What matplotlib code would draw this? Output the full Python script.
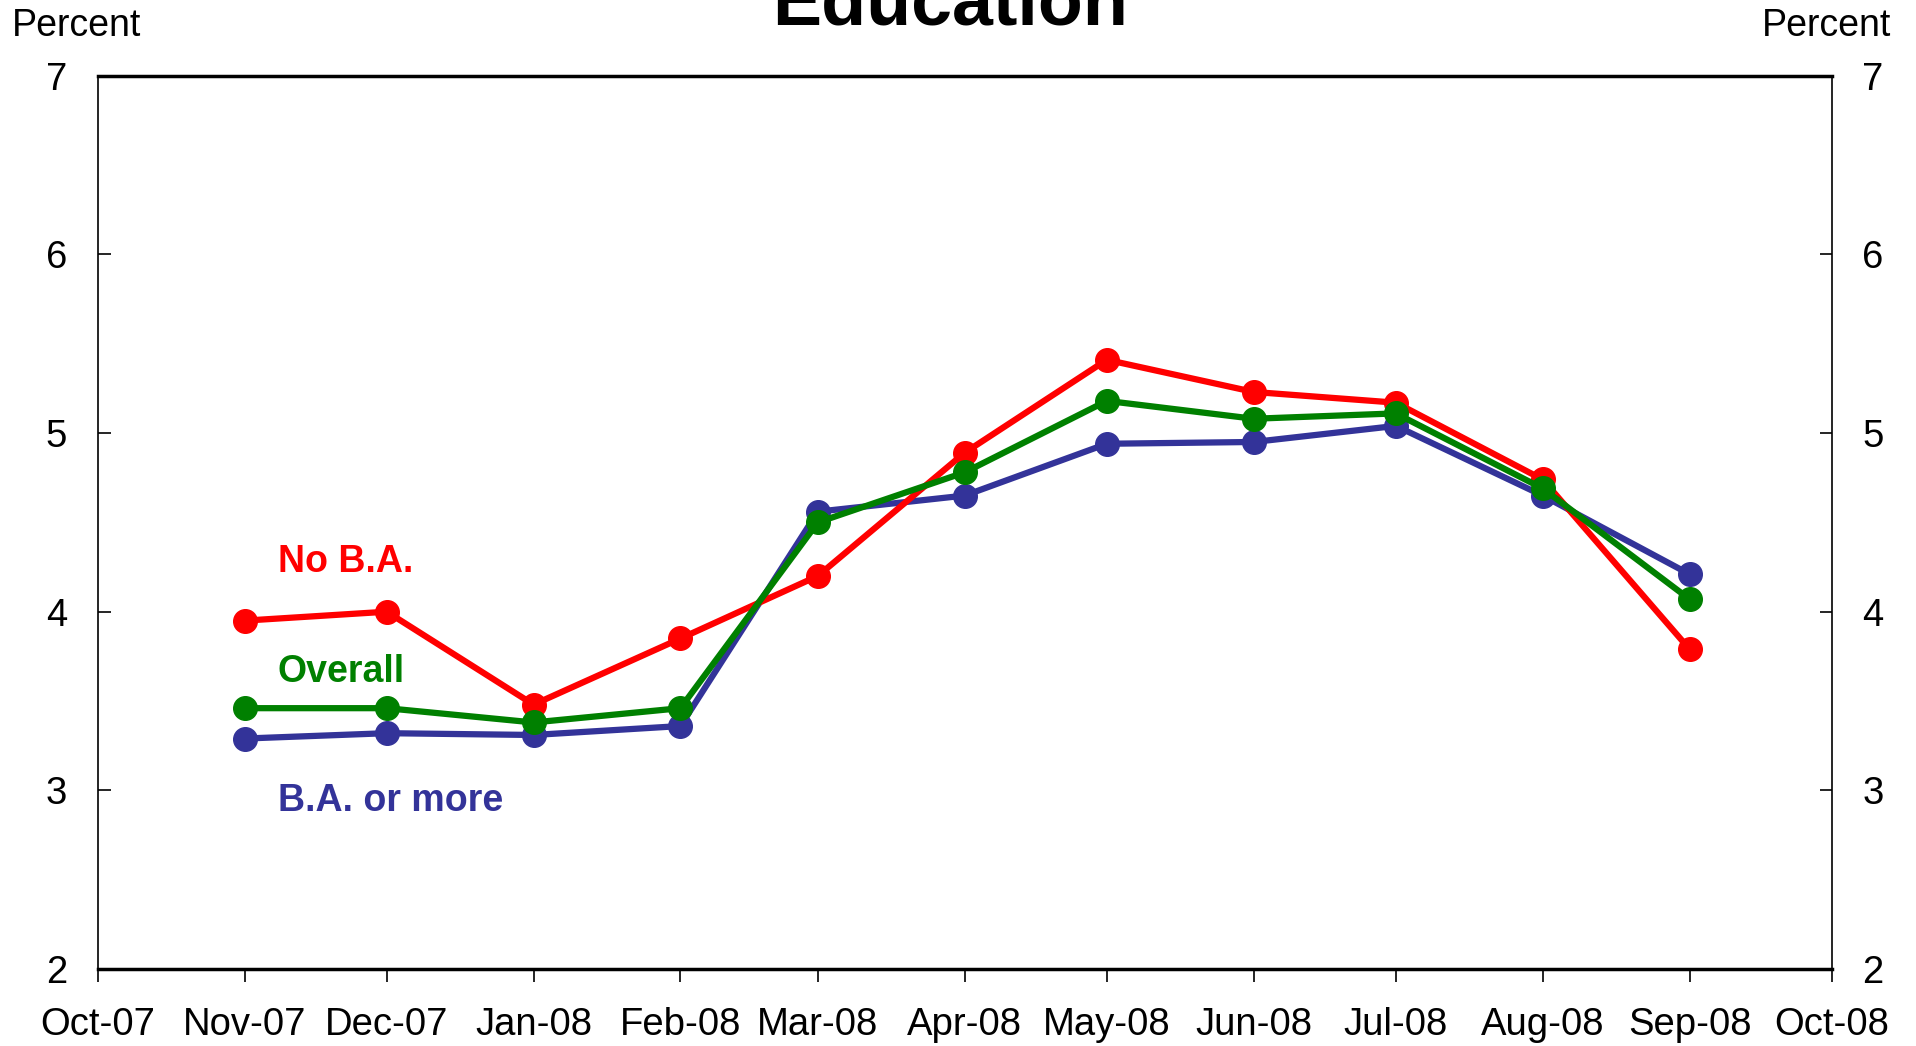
import pandas as pd
import matplotlib
matplotlib.use('Agg')
import matplotlib.pyplot as plt
import matplotlib.dates as mdates

plt.rcParams['font.family'] = ['Liberation Sans', 'DejaVu Sans']

# data
months = pd.to_datetime(['2007-11-01', '2007-12-01', '2008-01-01', '2008-02-01',
                         '2008-03-01', '2008-04-01', '2008-05-01', '2008-06-01',
                         '2008-07-01', '2008-08-01', '2008-09-01'])
no_ba = [3.95, 4.00, 3.48, 3.85, 4.20, 4.89, 5.41, 5.23, 5.17, 4.74, 3.79]
overall = [3.46, 3.46, 3.38, 3.46, 4.50, 4.78, 5.18, 5.08, 5.11, 4.69, 4.07]
ba_more = [3.29, 3.32, 3.31, 3.36, 4.56, 4.65, 4.94, 4.95, 5.04, 4.65, 4.21]

x_start = pd.Timestamp('2007-10-01')
x_end = pd.Timestamp('2008-10-01')
y_ticks = [2, 3, 4, 5, 6, 7]

red = '#FF0000'
green = '#008000'
blue = '#333399'

fig = plt.figure(figsize=(19.16, 10.46), dpi=100)
ax = fig.add_axes([0.051, 0.0736, 0.905, 0.854])

ax.plot(months, ba_more, color=blue, lw=4.5, marker='o', ms=17)
ax.plot(months, no_ba, color=red, lw=4.5, marker='o', ms=17)
ax.plot(months, overall, color=green, lw=4.5, marker='o', ms=17)

lab_x = pd.Timestamp('2007-11-08')
ax.text(lab_x, 4.28, 'No B.A.', color=red, fontsize=27, fontweight='bold', va='center')
ax.text(lab_x, 3.66, 'Overall', color=green, fontsize=27, fontweight='bold', va='center')
ax.text(lab_x, 2.94, 'B.A. or more', color=blue, fontsize=27, fontweight='bold', va='center')

ax.set_xlim(x_start, x_end)
ax.set_ylim(2, 7)
ax.set_yticks(y_ticks)
ax.xaxis.set_major_locator(mdates.MonthLocator())
ax.xaxis.set_major_formatter(mdates.DateFormatter('%b-%y'))

ax.tick_params(axis='x', direction='out', length=9, width=1.2, pad=18, labelsize=27.5)
ax.tick_params(axis='y', direction='in', length=9, width=1.2, pad=22, labelsize=27.5,
               right=True, labelright=True)

for s in ['top', 'bottom']:
    ax.spines[s].set_linewidth(2.5)
for s in ['left', 'right']:
    ax.spines[s].set_linewidth(1.2)

fig.text(0.496, 0.977, 'Education', fontsize=53, fontweight='bold', ha='center', va='baseline')
fig.text(0.006, 0.966, 'Percent', fontsize=27, ha='left', va='baseline')
fig.text(0.987, 0.966, 'Percent', fontsize=27, ha='right', va='baseline')

fig.savefig('out.png', dpi=100)
